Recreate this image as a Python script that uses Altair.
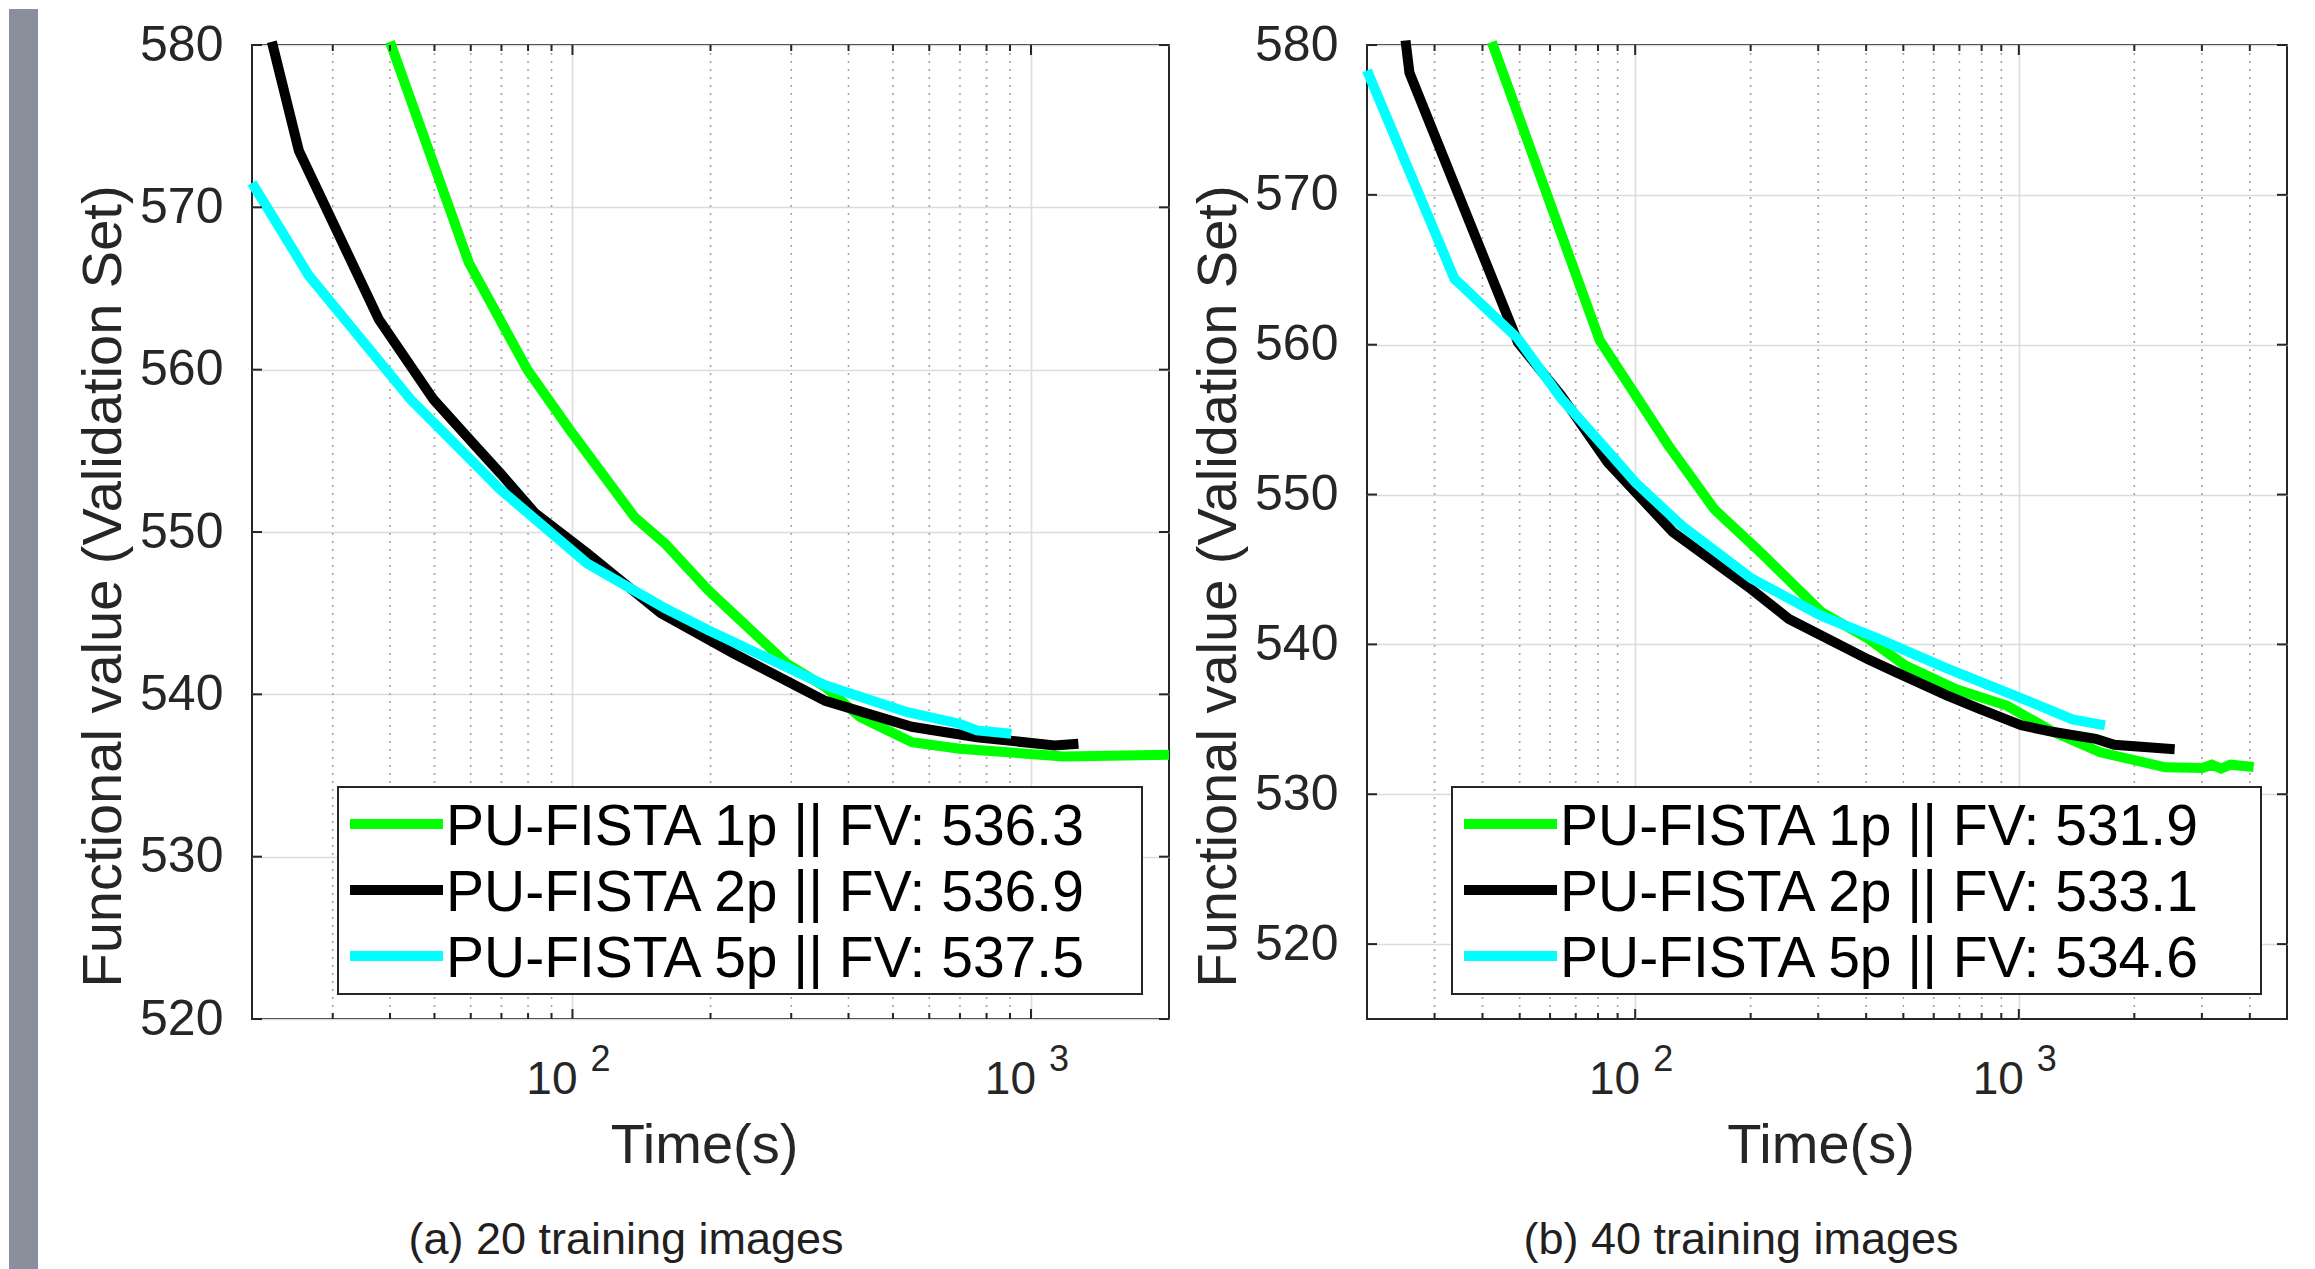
import altair as alt
import pandas as pd

# ---------------- data ----------------
NAMES = ["PU-FISTA 1p", "PU-FISTA 2p", "PU-FISTA 5p"]
COLORS = ["#00ff00", "#000000", "#00ffff"]

# (a) 20 training images
A_T_1P = [40, 59.4, 79.7, 98.6, 136.7, 159, 198, 293, 356, 424, 550, 698, 1177, 2000]
A_V_1P = [580.2, 566.6, 560.0, 556.3, 550.9, 549.3, 546.4, 541.9, 540.45, 538.6, 537.05, 536.65, 536.17, 536.28]
A_T_2P = [22.1, 25.3, 37.8, 49.8, 61.4, 69.7, 82.9, 107.6, 155.8, 225.4, 355.8, 549.6, 762, 1126, 1269]
A_V_2P = [580.2, 573.5, 563.1, 558.15, 555.3, 553.6, 551.15, 548.7, 545.0, 542.5, 539.6, 538.0, 537.36, 536.85, 536.96]
A_T_5P = [20, 26.6, 44.4, 56.0, 69.7, 107.6, 159.2, 197.9, 355.8, 537.9, 698, 762, 906]
A_V_5P = [571.5, 565.8, 558.15, 555.3, 552.6, 548.07, 545.3, 543.95, 540.56, 538.9, 538.19, 537.78, 537.57]
A_FV = [536.3, 536.9, 537.5]

# (b) 40 training images
B_T_1P = [42.3, 80.8, 121.9, 161, 207, 306, 404, 505, 687, 933, 1233, 1630, 2410, 3012, 3185, 3368, 3561, 4093]
B_V_1P = [580.2, 560.3, 553.3, 549.0, 546.4, 542.15, 540.4, 538.6, 537.0, 535.9, 534.15, 532.8, 531.8, 531.75, 531.97, 531.71, 531.97, 531.82]
B_T_2P = [25.2, 25.8, 49.5, 64.2, 84.8, 125.3, 195.7, 251.6, 404.5, 478, 649, 790, 1015, 1233, 1586, 1773, 2548]
B_V_2P = [580.3, 578.15, 560.15, 556.6, 552.15, 547.5, 543.9, 541.7, 539.0, 538.15, 536.6, 535.7, 534.6, 534.15, 533.7, 533.3, 533.0]
B_T_5P = [20, 33.8, 49.5, 64.2, 84.9, 100.2, 132.5, 201, 306, 428, 649, 859, 1134, 1379, 1677]
B_V_5P = [578.3, 564.4, 560.4, 556.4, 552.9, 550.8, 547.9, 544.4, 541.9, 540.4, 538.4, 537.15, 535.9, 535.0, 534.6]
B_FV = [531.9, 533.1, 534.6]

Y_TICKS = [520, 530, 540, 550, 560, 570, 580]
X_MAJOR = [100, 1000]
X_BASE = ["10", "10"]
X_EXP = ["2", "3"]
A_MINOR = [30, 40, 50, 60, 70, 80, 90, 200, 300, 400, 500, 600, 700, 800, 900]
B_MINOR = [30, 40, 50, 60, 70, 80, 90, 200, 300, 400, 500, 600, 700, 800, 900, 2000, 3000, 4000]

A_XDOM = [20, 2000]
A_YDOM = [520, 580]
B_XDOM = [20, 5000]
B_YDOM = [515, 580]

XLABEL = "Time(s)"
YLABEL = "Functional value (Validation Set)"
CAP_A = "(a) 20 training images"
CAP_B = "(b) 40 training images"

# ---------------- styling ----------------
AX = "#262626"
FONT = "Liberation Sans"
ONE = pd.DataFrame({"k": [0]})

X_AXIS = alt.Axis(values=X_MAJOR, grid=True, gridColor="#dcdcdc", gridWidth=1.6,
                  labels=False, ticks=False, domain=False, title=None)
Y_AXIS = alt.Axis(values=Y_TICKS, grid=True, gridColor="#dcdcdc", gridWidth=1.6,
                  ticks=False, tickSize=0, domain=False, title=None,
                  labelFontSize=50, labelColor=AX, labelPadding=29,
                  labelFont=FONT, labelFlush=False)


def panel(ts, vs, fvs, xdom, ydom, minor, w, h, box, caption, strip):
    labels = [f"{n} || FV: {f:.1f}" for n, f in zip(NAMES, fvs)]
    rows = []
    for lab, t, v in zip(labels, ts, vs):
        for ti, vi in zip(t, v):
            rows.append({"t": ti, "v": vi, "series": lab})
    df = pd.DataFrame(rows)
    xs = alt.Scale(type="log", domain=xdom, nice=False)
    ys = alt.Scale(domain=ydom, nice=False, zero=False)

    def X(field="t:Q"):
        return alt.X(field, scale=xs, axis=X_AXIS)

    def Y(field="v:Q"):
        return alt.Y(field, scale=ys, axis=Y_AXIS)

    layers = []
    lines = alt.Chart(df).mark_line(strokeWidth=10).encode(
        x=X(), y=Y(),
        color=alt.Color("series:N", scale=alt.Scale(domain=labels, range=COLORS), legend=None),
    )

    if strip:
        layers.append(alt.Chart(ONE).mark_rect(color="#898f9b").encode(
            x=alt.value(-243), x2=alt.value(-214), y=alt.value(-36), y2=alt.value(1225)))

    mdf = pd.DataFrame({"t": minor})
    layers.append(alt.Chart(mdf).mark_rule(color="#a6a6a6", strokeWidth=1.6, strokeDash=[2, 6]).encode(
        x=X(), y=alt.value(0), y2=alt.value(h)))

    layers.append(lines)

    # inward ticks
    mjdf = pd.DataFrame({"t": X_MAJOR, "base": X_BASE, "exp": X_EXP})
    for d, L in ((mdf, 6), (mjdf, 10)):
        for y0, y1 in ((h, h - L), (0, L)):
            layers.append(alt.Chart(d).mark_rule(color=AX, strokeWidth=2).encode(
                x=X(), y=alt.value(y0), y2=alt.value(y1)))
    ydf = pd.DataFrame({"v": Y_TICKS})
    for x0, x1 in ((0, 10), (w - 10, w)):
        layers.append(alt.Chart(ydf).mark_rule(color=AX, strokeWidth=2).encode(
            y=Y(), x=alt.value(x0), x2=alt.value(x1)))

    # x tick labels 10^k
    layers.append(alt.Chart(mjdf).mark_text(align="right", baseline="alphabetic", fontSize=46,
                                            color=AX, dx=5).encode(
        x=X(), y=alt.value(h + 75), text="base:N"))
    layers.append(alt.Chart(mjdf).mark_text(align="left", baseline="alphabetic", fontSize=36,
                                            color=AX, dx=18).encode(
        x=X(), y=alt.value(h + 52), text="exp:N"))

    # legend
    bx0, bx1, by0, by1 = box
    layers.append(alt.Chart(ONE).mark_rect(fill="white", stroke=AX, strokeWidth=2).encode(
        x=alt.value(bx0), x2=alt.value(bx1), y=alt.value(by0), y2=alt.value(by1)))
    for i, (lab, col) in enumerate(zip(labels, COLORS)):
        base = by0 + 58 + 66 * i
        layers.append(alt.Chart(ONE).mark_rule(color=col, strokeWidth=10).encode(
            x=alt.value(bx0 + 12), x2=alt.value(bx0 + 105), y=alt.value(base - 21)))
        layers.append(alt.Chart(pd.DataFrame({"label": [lab]})).mark_text(
            align="left", baseline="alphabetic", fontSize=57, color="black").encode(
            x=alt.value(bx0 + 108), y=alt.value(base), text="label:N"))

    # titles and caption
    layers.append(alt.Chart(ONE).mark_text(align="center", baseline="alphabetic", fontSize=56, color=AX).encode(
        x=alt.value(w / 2 - 6), y=alt.value(h + 144), text=alt.value(XLABEL)))
    layers.append(alt.Chart(ONE).mark_text(align="center", baseline="alphabetic", fontSize=56, color=AX,
                                           angle=270).encode(
        x=alt.value(-131), y=alt.value(541.5), text=alt.value(YLABEL)))
    layers.append(alt.Chart(ONE).mark_text(align="center", baseline="alphabetic", fontSize=45,
                                           color="#231f20").encode(
        x=alt.value(374), y=alt.value(1209), text=alt.value(caption)))

    return alt.layer(*layers).properties(width=w, height=h)


pa = panel([A_T_1P, A_T_2P, A_T_5P], [A_V_1P, A_V_2P, A_V_5P], A_FV, A_XDOM, A_YDOM, A_MINOR,
           917, 974, (86, 890, 742, 949), CAP_A, True)
pb = panel([B_T_1P, B_T_2P, B_T_5P], [B_V_1P, B_V_2P, B_V_5P], B_FV, B_XDOM, B_YDOM, B_MINOR,
           920, 974, (85, 894, 742, 949), CAP_B, False)

chart = alt.hconcat(pa, pb, spacing=198, bounds="flush").properties(
    padding=0, background="white"
).configure(font=FONT).configure_view(stroke=AX, strokeWidth=2)

chart.save("out.html", embed_options={"renderer": "svg", "actions": False})
